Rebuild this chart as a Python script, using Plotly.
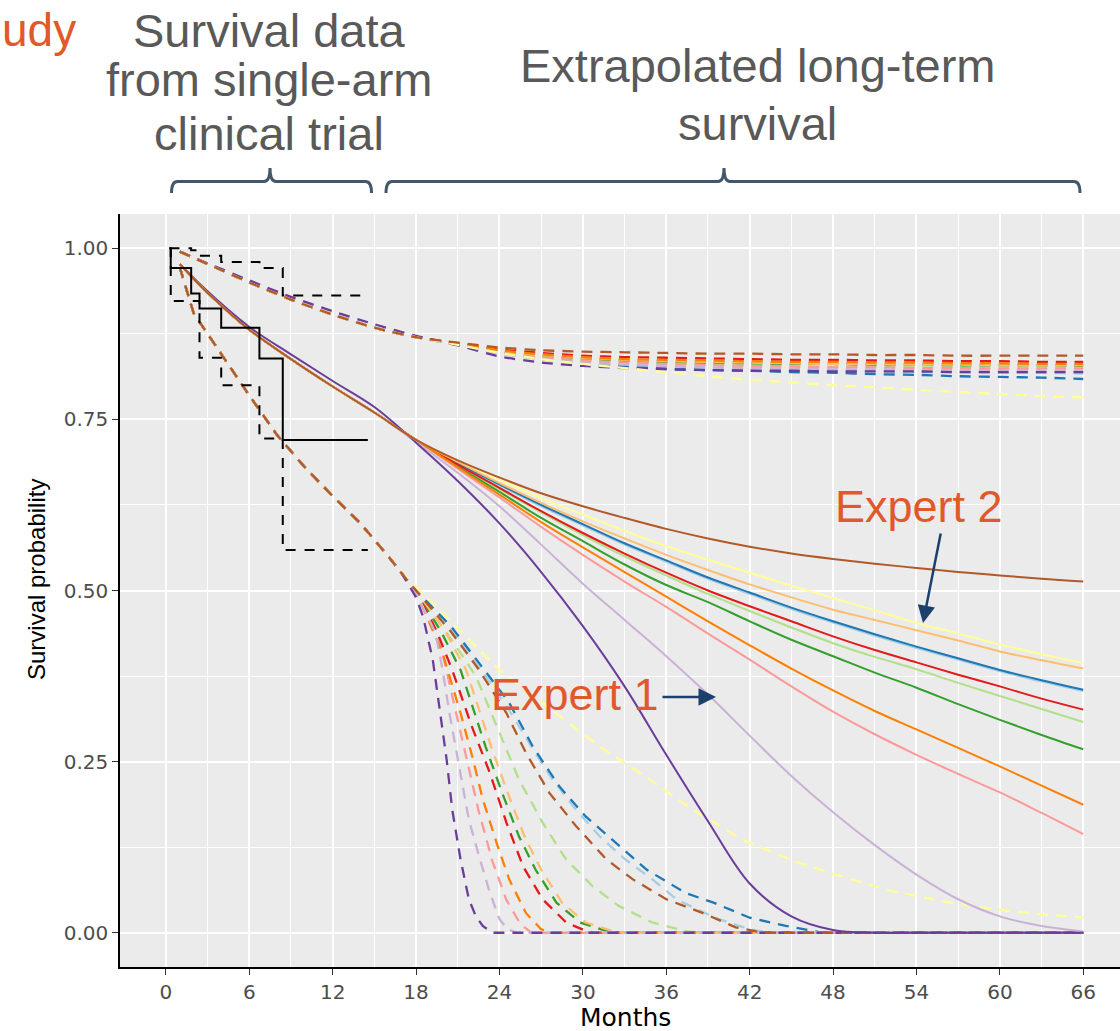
import plotly.graph_objects as go

# ---------------- data ----------------
# Kaplan-Meier estimate from the single-arm trial (step function)
km_time = [0.26, 0.35, 1.82, 2.42, 3.98, 6.73, 8.41, 14.53]
km_surv = [1.000, 0.971, 0.934, 0.912, 0.884, 0.839, 0.720, 0.720]
km_upper = [1.000, 1.000, 0.997, 0.989, 0.980, 0.971, 0.931, 0.931]
km_lower = [1.000, 0.923, 0.923, 0.840, 0.800, 0.722, 0.559, 0.559]

# model names and colours (RColorBrewer "Paired")
models = ["lightblue", "blue", "lightgreen", "green", "pink", "red",
          "lightorange", "orange", "lightpurple", "purple", "yellow", "brown"]
colors = ["#A6CEE3", "#1F78B4", "#B2DF8A", "#33A02C", "#FB9A99", "#E31A1C",
          "#FDBF6F", "#FF7F00", "#CAB2D6", "#6A3D9A", "#FFFF99", "#B15928"]

# extrapolated survival (point estimates)
fit_time = [1, 3, 6, 9, 12, 15, 18, 21, 24, 27, 30, 33, 36, 39, 42, 45, 48, 51, 54, 57, 60, 63, 66]
fit_early = [0.977, 0.935, 0.881, 0.838, 0.798, 0.760]
fit_early_purple = [0.977, 0.937, 0.885, 0.845, 0.806, 0.768]
fit_lightblue = [0.720, 0.686, 0.654, 0.623, 0.595, 0.567, 0.542, 0.517, 0.495, 0.473, 0.453, 0.434, 0.416, 0.399, 0.382, 0.367, 0.353]
fit_blue = [0.720, 0.686, 0.655, 0.625, 0.597, 0.569, 0.544, 0.519, 0.497, 0.475, 0.455, 0.436, 0.418, 0.401, 0.384, 0.369, 0.355]
fit_lightgreen = [0.720, 0.683, 0.648, 0.614, 0.581, 0.550, 0.522, 0.495, 0.470, 0.446, 0.423, 0.403, 0.385, 0.365, 0.346, 0.327, 0.308]
fit_green = [0.720, 0.681, 0.644, 0.606, 0.572, 0.538, 0.508, 0.483, 0.455, 0.428, 0.404, 0.380, 0.358, 0.334, 0.311, 0.289, 0.268]
fit_pink = [0.720, 0.678, 0.636, 0.593, 0.552, 0.513, 0.476, 0.437, 0.399, 0.360, 0.323, 0.290, 0.260, 0.232, 0.205, 0.175, 0.144]
fit_red = [0.720, 0.684, 0.650, 0.616, 0.584, 0.554, 0.526, 0.500, 0.477, 0.455, 0.433, 0.413, 0.395, 0.377, 0.360, 0.342, 0.326]
fit_lightorange = [0.720, 0.688, 0.657, 0.628, 0.601, 0.576, 0.552, 0.530, 0.509, 0.490, 0.472, 0.457, 0.442, 0.427, 0.411, 0.398, 0.386]
fit_orange = [0.720, 0.680, 0.640, 0.600, 0.563, 0.527, 0.491, 0.455, 0.420, 0.386, 0.354, 0.324, 0.297, 0.270, 0.243, 0.215, 0.187]
fit_lightpurple = [0.717, 0.672, 0.623, 0.567, 0.510, 0.457, 0.404, 0.348, 0.288, 0.229, 0.176, 0.128, 0.085, 0.049, 0.024, 0.010, 0.002]
fit_purple = [0.716, 0.660, 0.598, 0.527, 0.448, 0.360, 0.260, 0.163, 0.072, 0.024, 0.004, 0.0, 0.0, 0.0, 0.0, 0.0, 0.0]
fit_yellow = [0.720, 0.690, 0.662, 0.635, 0.611, 0.587, 0.565, 0.545, 0.526, 0.507, 0.489, 0.471, 0.453, 0.437, 0.421, 0.407, 0.394]
fit_brown = [0.720, 0.690, 0.665, 0.642, 0.623, 0.606, 0.590, 0.576, 0.564, 0.554, 0.546, 0.539, 0.533, 0.527, 0.522, 0.517, 0.513]

# upper confidence limits (same time grid)
up_early = [0.995, 0.977, 0.950, 0.925, 0.903, 0.884, 0.870]
up_early_purple = [0.995, 0.978, 0.953, 0.929, 0.908, 0.889, 0.872]
up_lightblue = [0.860, 0.849, 0.840, 0.834, 0.830, 0.827, 0.825, 0.823, 0.822, 0.821, 0.820, 0.819, 0.819, 0.818, 0.818, 0.817]
up_blue = [0.859, 0.848, 0.838, 0.832, 0.827, 0.824, 0.822, 0.821, 0.819, 0.818, 0.816, 0.815, 0.813, 0.812, 0.811, 0.809]
up_lightgreen = [0.860, 0.849, 0.842, 0.837, 0.834, 0.832, 0.830, 0.829, 0.828, 0.827, 0.827, 0.826, 0.826, 0.825, 0.825, 0.825]
up_green = [0.860, 0.850, 0.843, 0.839, 0.836, 0.834, 0.833, 0.832, 0.831, 0.831, 0.830, 0.830, 0.829, 0.829, 0.829, 0.828]
up_pink = [0.860, 0.849, 0.841, 0.836, 0.833, 0.831, 0.829, 0.828, 0.827, 0.826, 0.826, 0.825, 0.825, 0.824, 0.824, 0.824]
up_red = [0.861, 0.852, 0.847, 0.843, 0.841, 0.840, 0.839, 0.838, 0.837, 0.837, 0.836, 0.836, 0.835, 0.835, 0.834, 0.834]
up_lightorange = [0.860, 0.850, 0.844, 0.840, 0.837, 0.835, 0.834, 0.833, 0.832, 0.831, 0.831, 0.830, 0.830, 0.829, 0.829, 0.829]
up_orange = [0.861, 0.851, 0.845, 0.841, 0.838, 0.837, 0.836, 0.835, 0.834, 0.834, 0.833, 0.833, 0.832, 0.832, 0.831, 0.831]
up_lightpurple = [0.859, 0.846, 0.838, 0.833, 0.830, 0.828, 0.826, 0.825, 0.824, 0.823, 0.823, 0.822, 0.822, 0.822, 0.821, 0.821]
up_purple = [0.858, 0.842, 0.833, 0.828, 0.825, 0.823, 0.822, 0.821, 0.821, 0.820, 0.820, 0.820, 0.819, 0.819, 0.819, 0.819]
up_yellow = [0.859, 0.847, 0.838, 0.831, 0.825, 0.819, 0.813, 0.808, 0.804, 0.800, 0.797, 0.793, 0.790, 0.787, 0.784, 0.782]
up_brown = [0.862, 0.855, 0.851, 0.849, 0.848, 0.847, 0.846, 0.846, 0.845, 0.845, 0.844, 0.844, 0.843, 0.843, 0.843, 0.843]

# lower confidence limits (shared start, then each on its own times)
lo_early_time = [1, 2, 4, 6, 8, 10, 12, 14, 16, 17]
lo_early = [0.972, 0.905, 0.845, 0.785, 0.727, 0.680, 0.638, 0.598, 0.550, 0.524]
lo_time_lightblue = [18, 20.5, 22.5, 24.7, 26.2, 27.8, 29.5, 31.2, 33.0, 35.0, 36.8, 39.5, 42.0, 43.5, 66]
lo_lightblue = [0.500, 0.445, 0.390, 0.325, 0.275, 0.224, 0.180, 0.141, 0.108, 0.078, 0.048, 0.022, 0.005, 0.0, 0.0]
lo_time_blue = [18, 20.5, 22.5, 24.7, 26.4, 28.3, 30.2, 32.4, 34.6, 37.4, 39.4, 42.0, 44.6, 47.0, 48.0, 66]
lo_blue = [0.500, 0.448, 0.395, 0.336, 0.272, 0.214, 0.170, 0.131, 0.092, 0.058, 0.044, 0.022, 0.010, 0.001, 0.0, 0.0]
lo_time_lightgreen = [18, 20.5, 22.3, 24.0, 25.4, 27.1, 28.8, 30.7, 32.6, 35.0, 37.5, 38.5, 66]
lo_lightgreen = [0.500, 0.430, 0.375, 0.292, 0.224, 0.161, 0.107, 0.068, 0.039, 0.015, 0.002, 0.0, 0.0]
lo_time_green = [18, 19.8, 21.2, 23.0, 24.2, 25.4, 26.6, 28.1, 29.8, 31.8, 32.5, 66]
lo_green = [0.499, 0.440, 0.384, 0.272, 0.204, 0.141, 0.092, 0.044, 0.015, 0.002, 0.0, 0.0]
lo_time_pink = [18, 19.6, 20.5, 21.5, 22.5, 23.5, 24.5, 25.5, 26.3, 66]
lo_pink = [0.498, 0.435, 0.355, 0.262, 0.178, 0.104, 0.048, 0.013, 0.0, 0.0]
lo_time_red = [18, 19.5, 20.6, 22.0, 23.3, 24.5, 25.7, 27.1, 28.8, 30.3, 31.0, 66]
lo_red = [0.499, 0.440, 0.384, 0.302, 0.234, 0.161, 0.097, 0.049, 0.015, 0.002, 0.0, 0.0]
lo_time_lightorange = [18, 20.1, 21.6, 23.4, 24.6, 25.8, 27.0, 28.5, 30.2, 32.2, 33.0, 66]
lo_lightorange = [0.500, 0.440, 0.384, 0.272, 0.204, 0.141, 0.092, 0.044, 0.015, 0.002, 0.0, 0.0]
lo_time_orange = [18, 19.9, 21.2, 22.1, 22.8, 23.8, 24.7, 25.9, 27.0, 27.8, 66]
lo_orange = [0.498, 0.409, 0.321, 0.253, 0.195, 0.131, 0.078, 0.029, 0.005, 0.0, 0.0]
lo_time_lightpurple = [18, 19.4, 19.9, 20.4, 21.1, 21.8, 22.6, 23.3, 24.0, 24.6, 25.3, 66]
lo_lightpurple = [0.497, 0.438, 0.385, 0.321, 0.243, 0.165, 0.107, 0.059, 0.020, 0.005, 0.0, 0.0]
lo_time_purple = [18, 18.5, 19.2, 19.7, 20.2, 20.6, 21.2, 21.8, 22.3, 22.8, 23.5, 66]
lo_purple = [0.490, 0.462, 0.399, 0.326, 0.253, 0.180, 0.107, 0.049, 0.024, 0.010, 0.0, 0.0]
lo_time_yellow = [18, 21.6, 24.0, 27.4, 31.2, 34.8, 37.9, 41.5, 45.0, 48.5, 52.0, 56.4, 61.0, 66.0]
lo_yellow = [0.505, 0.433, 0.384, 0.331, 0.272, 0.224, 0.180, 0.136, 0.106, 0.083, 0.062, 0.044, 0.031, 0.022]
lo_time_brown = [18, 20.5, 22.5, 24.5, 25.9, 27.6, 29.5, 31.7, 33.6, 36.0, 38.6, 41.0, 43.0, 66]
lo_brown = [0.500, 0.440, 0.385, 0.321, 0.263, 0.204, 0.156, 0.107, 0.078, 0.049, 0.029, 0.008, 0.0, 0.0]

x_ticks = [0, 6, 12, 18, 24, 30, 36, 42, 48, 54, 60, 66]
x_minor = [3, 9, 15, 21, 27, 33, 39, 45, 51, 57, 63]
y_ticks = [0.0, 0.25, 0.50, 0.75, 1.00]
y_ticklabels = ["0.00", "0.25", "0.50", "0.75", "1.00"]
y_minor = [0.125, 0.375, 0.625, 0.875]

fit_values = {
    "lightblue": fit_early + fit_lightblue, "blue": fit_early + fit_blue,
    "lightgreen": fit_early + fit_lightgreen, "green": fit_early + fit_green,
    "pink": fit_early + fit_pink, "red": fit_early + fit_red,
    "lightorange": fit_early + fit_lightorange, "orange": fit_early + fit_orange,
    "lightpurple": fit_early + fit_lightpurple, "purple": fit_early_purple + fit_purple,
    "yellow": fit_early + fit_yellow, "brown": fit_early + fit_brown,
}
up_values = {
    "lightblue": up_early + up_lightblue, "blue": up_early + up_blue,
    "lightgreen": up_early + up_lightgreen, "green": up_early + up_green,
    "pink": up_early + up_pink, "red": up_early + up_red,
    "lightorange": up_early + up_lightorange, "orange": up_early + up_orange,
    "lightpurple": up_early + up_lightpurple, "purple": up_early_purple + up_purple,
    "yellow": up_early + up_yellow, "brown": up_early + up_brown,
}
lo_series = {
    "lightblue": (lo_time_lightblue, lo_lightblue), "blue": (lo_time_blue, lo_blue),
    "lightgreen": (lo_time_lightgreen, lo_lightgreen), "green": (lo_time_green, lo_green),
    "pink": (lo_time_pink, lo_pink), "red": (lo_time_red, lo_red),
    "lightorange": (lo_time_lightorange, lo_lightorange), "orange": (lo_time_orange, lo_orange),
    "lightpurple": (lo_time_lightpurple, lo_lightpurple), "purple": (lo_time_purple, lo_purple),
    "yellow": (lo_time_yellow, lo_yellow), "brown": (lo_time_brown, lo_brown),
}

# ---------------- figure ----------------
fig = go.Figure()
DASH = "11px,8px"

for name, col in zip(models, colors):
    lt, ls = lo_series[name]
    fig.add_trace(go.Scatter(x=lo_early_time + lt, y=lo_early + ls, mode="lines",
                             line=dict(color=col, width=2.3, dash=DASH), hoverinfo="skip"))
for name, col in zip(models, colors):
    fig.add_trace(go.Scatter(x=fit_time, y=up_values[name], mode="lines",
                             line=dict(color=col, width=2.3, dash=DASH, shape="spline", smoothing=0.7),
                             hoverinfo="skip"))
for name, col in zip(models, colors):
    fig.add_trace(go.Scatter(x=fit_time, y=fit_values[name], mode="lines",
                             line=dict(color=col, width=2, shape="spline", smoothing=1.0),
                             hoverinfo="skip"))

# Kaplan-Meier with confidence band
fig.add_trace(go.Scatter(x=km_time, y=km_upper, mode="lines",
                         line=dict(color="black", width=2, dash="10px,9px", shape="hv"), hoverinfo="skip"))
fig.add_trace(go.Scatter(x=km_time, y=km_lower, mode="lines",
                         line=dict(color="black", width=2, dash="10px,9px", shape="hv"), hoverinfo="skip"))
fig.add_trace(go.Scatter(x=km_time, y=km_surv, mode="lines",
                         line=dict(color="black", width=2, shape="hv"), hoverinfo="skip"))

# pixel -> paper helpers for overlay annotations
L, R, T, B, W, H = 120, 0, 214, 64, 1120, 1031
PW, PH = W - L - R, H - T - B


def px(x):
    return (x - L) / PW


def py(y):
    return (H - B - y) / PH


GREY = "#595959"
ORANGE = "#E1582B"
NAVY = "#1B406C"
BRACKET = "#44566A"
TFONT = "Liberation Sans"

annotations = []


def text(t, x, y, size, color, xanchor="center", family=TFONT, angle=0):
    annotations.append(dict(text=t, x=px(x), y=py(y), xref="paper", yref="paper",
                            showarrow=False, xanchor=xanchor, yanchor="middle", textangle=angle,
                            font=dict(family=family, size=size, color=color)))


text("udy", 0, 30, 46, ORANGE, xanchor="left")
text("Survival data", 269, 30, 47, GREY)
text("from single-arm", 269, 80, 47, GREY)
text("clinical trial", 269, 133, 47, GREY)
text("Extrapolated long-term", 757, 66, 47, GREY)
text("survival", 757, 123, 47, GREY)
text("Expert 2", 919, 506, 45, ORANGE)
text("Expert 1", 575, 694, 45, ORANGE)

# axis titles
text("Months", 625, 1017, 25, "black", family="DejaVu Sans")
text("Survival probability", 36, 580, 24, "black", family="Liberation Sans", angle=-90)

# arrows
annotations.append(dict(text="", x=px(923), y=py(623), xref="paper", yref="paper",
                        ax=18, ay=-91, axref="pixel", ayref="pixel", showarrow=True,
                        arrowhead=2, arrowsize=1.4, arrowwidth=2.5, arrowcolor=NAVY, standoff=0))
annotations.append(dict(text="", x=px(716), y=py(697), xref="paper", yref="paper",
                        ax=-55, ay=0, axref="pixel", ayref="pixel", showarrow=True,
                        arrowhead=2, arrowsize=1.4, arrowwidth=2.5, arrowcolor=NAVY, standoff=0))


def bracket(x1, xc, x2, yh=181.5, yend=193, ytop=168, r=6):
    pts = [
        f"M{px(x1)},{py(yend)}",
        f"Q{px(x1)},{py(yh)} {px(x1 + r)},{py(yh)}",
        f"L{px(xc - r)},{py(yh)}",
        f"Q{px(xc)},{py(yh)} {px(xc)},{py(ytop)}",
        f"Q{px(xc)},{py(yh)} {px(xc + r)},{py(yh)}",
        f"L{px(x2 - r)},{py(yh)}",
        f"Q{px(x2)},{py(yh)} {px(x2)},{py(yend)}",
    ]
    return dict(type="path", path=" ".join(pts), xref="paper", yref="paper",
                line=dict(color=BRACKET, width=3))


shapes = [bracket(171.5, 270, 371.5), bracket(386, 724, 1080)]

fig.update_layout(
    template="none",
    width=W, height=H,
    margin=dict(l=L, r=R, t=T, b=B, pad=0),
    paper_bgcolor="white", plot_bgcolor="#EBEBEB",
    showlegend=False,
    annotations=annotations,
    shapes=shapes,
    xaxis=dict(range=[-3.3, -3.3 + PW / 13.9], tickvals=x_ticks, ticktext=[str(v) for v in x_ticks],
               ticks="outside", ticklen=6, tickwidth=1.3, tickcolor="#333333",
               showline=True, linecolor="black", linewidth=1.5, mirror=False,
               showgrid=True, gridcolor="white", gridwidth=2, zeroline=False,
               minor=dict(tickvals=x_minor, showgrid=True, gridcolor="white", gridwidth=1, ticks=""),
               tickfont=dict(family="DejaVu Sans", size=20, color="#4D4D4D"),
               automargin=False),
    yaxis=dict(range=[-0.05, 1.05], tickvals=y_ticks, ticktext=y_ticklabels,
               ticks="outside", ticklen=6, tickwidth=1.3, tickcolor="#333333",
               showline=True, linecolor="black", linewidth=1.5,
               showgrid=True, gridcolor="white", gridwidth=2, zeroline=False,
               minor=dict(tickvals=y_minor, showgrid=True, gridcolor="white", gridwidth=1, ticks=""),
               tickfont=dict(family="DejaVu Sans", size=20, color="#4D4D4D"),
               automargin=False),
)

fig.write_html("out.html")
